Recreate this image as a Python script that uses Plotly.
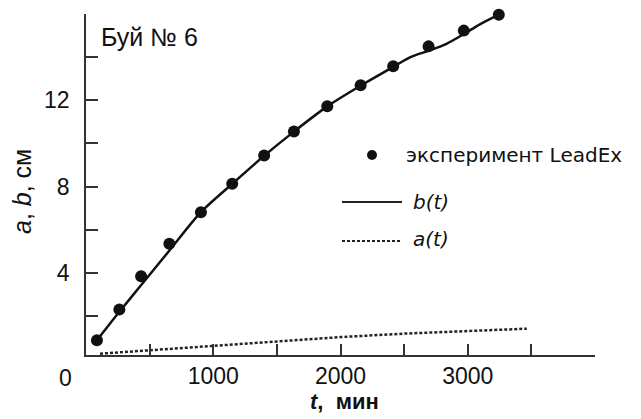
import plotly.graph_objects as go

# Experimental points (LeadEx), buoy No 6
t_exp = [86, 262, 433, 655, 903, 1149, 1400, 1634, 1896, 2158, 2414, 2692, 2969, 3244]
b_exp = [0.88, 2.31, 3.85, 5.36, 6.81, 8.13, 9.44, 10.56, 11.73, 12.70, 13.58, 14.50, 15.23, 15.97]

# Model curve b(t)
t_b = [86, 262, 432, 654, 903, 1149, 1400, 1634, 1896, 2158, 2414, 2550, 2694, 2833, 2969, 3095, 3244]
b_line = [0.88, 2.20, 3.43, 5.03, 6.82, 8.13, 9.43, 10.55, 11.72, 12.68, 13.55, 14.0, 14.30, 14.62, 15.07, 15.52, 15.97]

# Model curve a(t)
t_a = [110, 500, 1000, 1500, 2000, 2500, 3000, 3464]
a_line = [0.26, 0.42, 0.62, 0.81, 1.03, 1.19, 1.30, 1.42]

x_ticks = [500, 1000, 1500, 2000, 2500, 3000, 3500]
x_ticktext = ["", "1000", "", "2000", "", "3000", ""]
y_ticks = [2, 4, 6, 8, 10, 12, 14]
y_ticktext = ["", "4", "", "8", "", "12", ""]

FONT = "Arial, Liberation Sans, sans-serif"
LFONT = "DejaVu Sans, sans-serif"
AX = "#333333"

fig = go.Figure()
fig.add_trace(go.Scatter(x=t_a, y=a_line, mode="lines",
                         line=dict(color="#222", width=2.5, dash="3px,2px"),
                         showlegend=False, cliponaxis=False))
fig.add_trace(go.Scatter(x=t_b, y=b_line, mode="lines",
                         line=dict(color="#111", width=2.5, shape="spline", smoothing=0.8),
                         showlegend=False, cliponaxis=False))
fig.add_trace(go.Scatter(x=t_exp, y=b_exp, mode="markers",
                         marker=dict(color="#111", size=12),
                         showlegend=False, cliponaxis=False))

# page body has an 8px margin, so the figure is offset by (8, 8)
fig.update_layout(
    width=633, height=411,
    margin=dict(l=78, r=46, t=6, b=64),
    paper_bgcolor="white", plot_bgcolor="white",
    font=dict(family=FONT, color="#111"),
    xaxis=dict(range=[0, 4000], showgrid=False, zeroline=False,
               showline=True, linecolor=AX, linewidth=1.5,
               tickmode="array", tickvals=x_ticks, ticktext=x_ticktext,
               ticks="inside", ticklen=11, tickwidth=1.5, tickcolor=AX,
               tickfont=dict(size=23, family=FONT, color="#111")),
    yaxis=dict(range=[0.2, 16.0], showgrid=False, zeroline=False,
               showline=True, linecolor=AX, linewidth=1.5,
               tickmode="array", tickvals=y_ticks, ticktext=y_ticktext,
               ticks="inside", ticklen=12, tickwidth=1.5, tickcolor=AX,
               ticklabelstandoff=10,
               tickfont=dict(size=23, family=FONT, color="#111")),
)

def px2paper(px, py):
    return (px - 86) / 509.0, (355 - py) / 341.0

annotations = []
def ann(text, px, py, size, xanchor="left", angle=0, family=FONT):
    x, y = px2paper(px, py)
    annotations.append(dict(text=text, x=x, y=y, xref="paper", yref="paper",
                            xanchor=xanchor, yanchor="middle", showarrow=False,
                            textangle=angle, font=dict(size=size, family=family, color="#111")))

ann("Буй № 6", 99, 37, 25)
ann("0", 65, 378, 23, xanchor="center")
ann("<i>a</i>, <i>b</i>, см", 22, 192, 25, xanchor="center", angle=-90)
ann("<b><i>t</i>,  мин</b>", 344, 402, 22, xanchor="center")
ann("эксперимент LeadEx", 404, 155, 20, family=LFONT)
ann("<i>b(t)</i>", 411, 202, 20, family=LFONT)
ann("<i>a(t)</i>", 411, 239, 20, family=LFONT)

shapes = []
x0, y0 = px2paper(367, 150)
x1, y1 = px2paper(377, 160)
shapes.append(dict(type="circle", xref="paper", yref="paper", x0=x0, y0=y0, x1=x1, y1=y1,
                   fillcolor="#111", line=dict(color="#111", width=0)))
for py, dash in [(202, "solid"), (241, "3px,2px")]:
    xa, ya = px2paper(342, py)
    xb, _ = px2paper(402, py)
    shapes.append(dict(type="line", xref="paper", yref="paper", x0=xa, x1=xb, y0=ya, y1=ya,
                       line=dict(color="#222", width=2.2, dash=dash)))

fig.update_layout(annotations=annotations, shapes=shapes)
fig.write_html("out.html")
